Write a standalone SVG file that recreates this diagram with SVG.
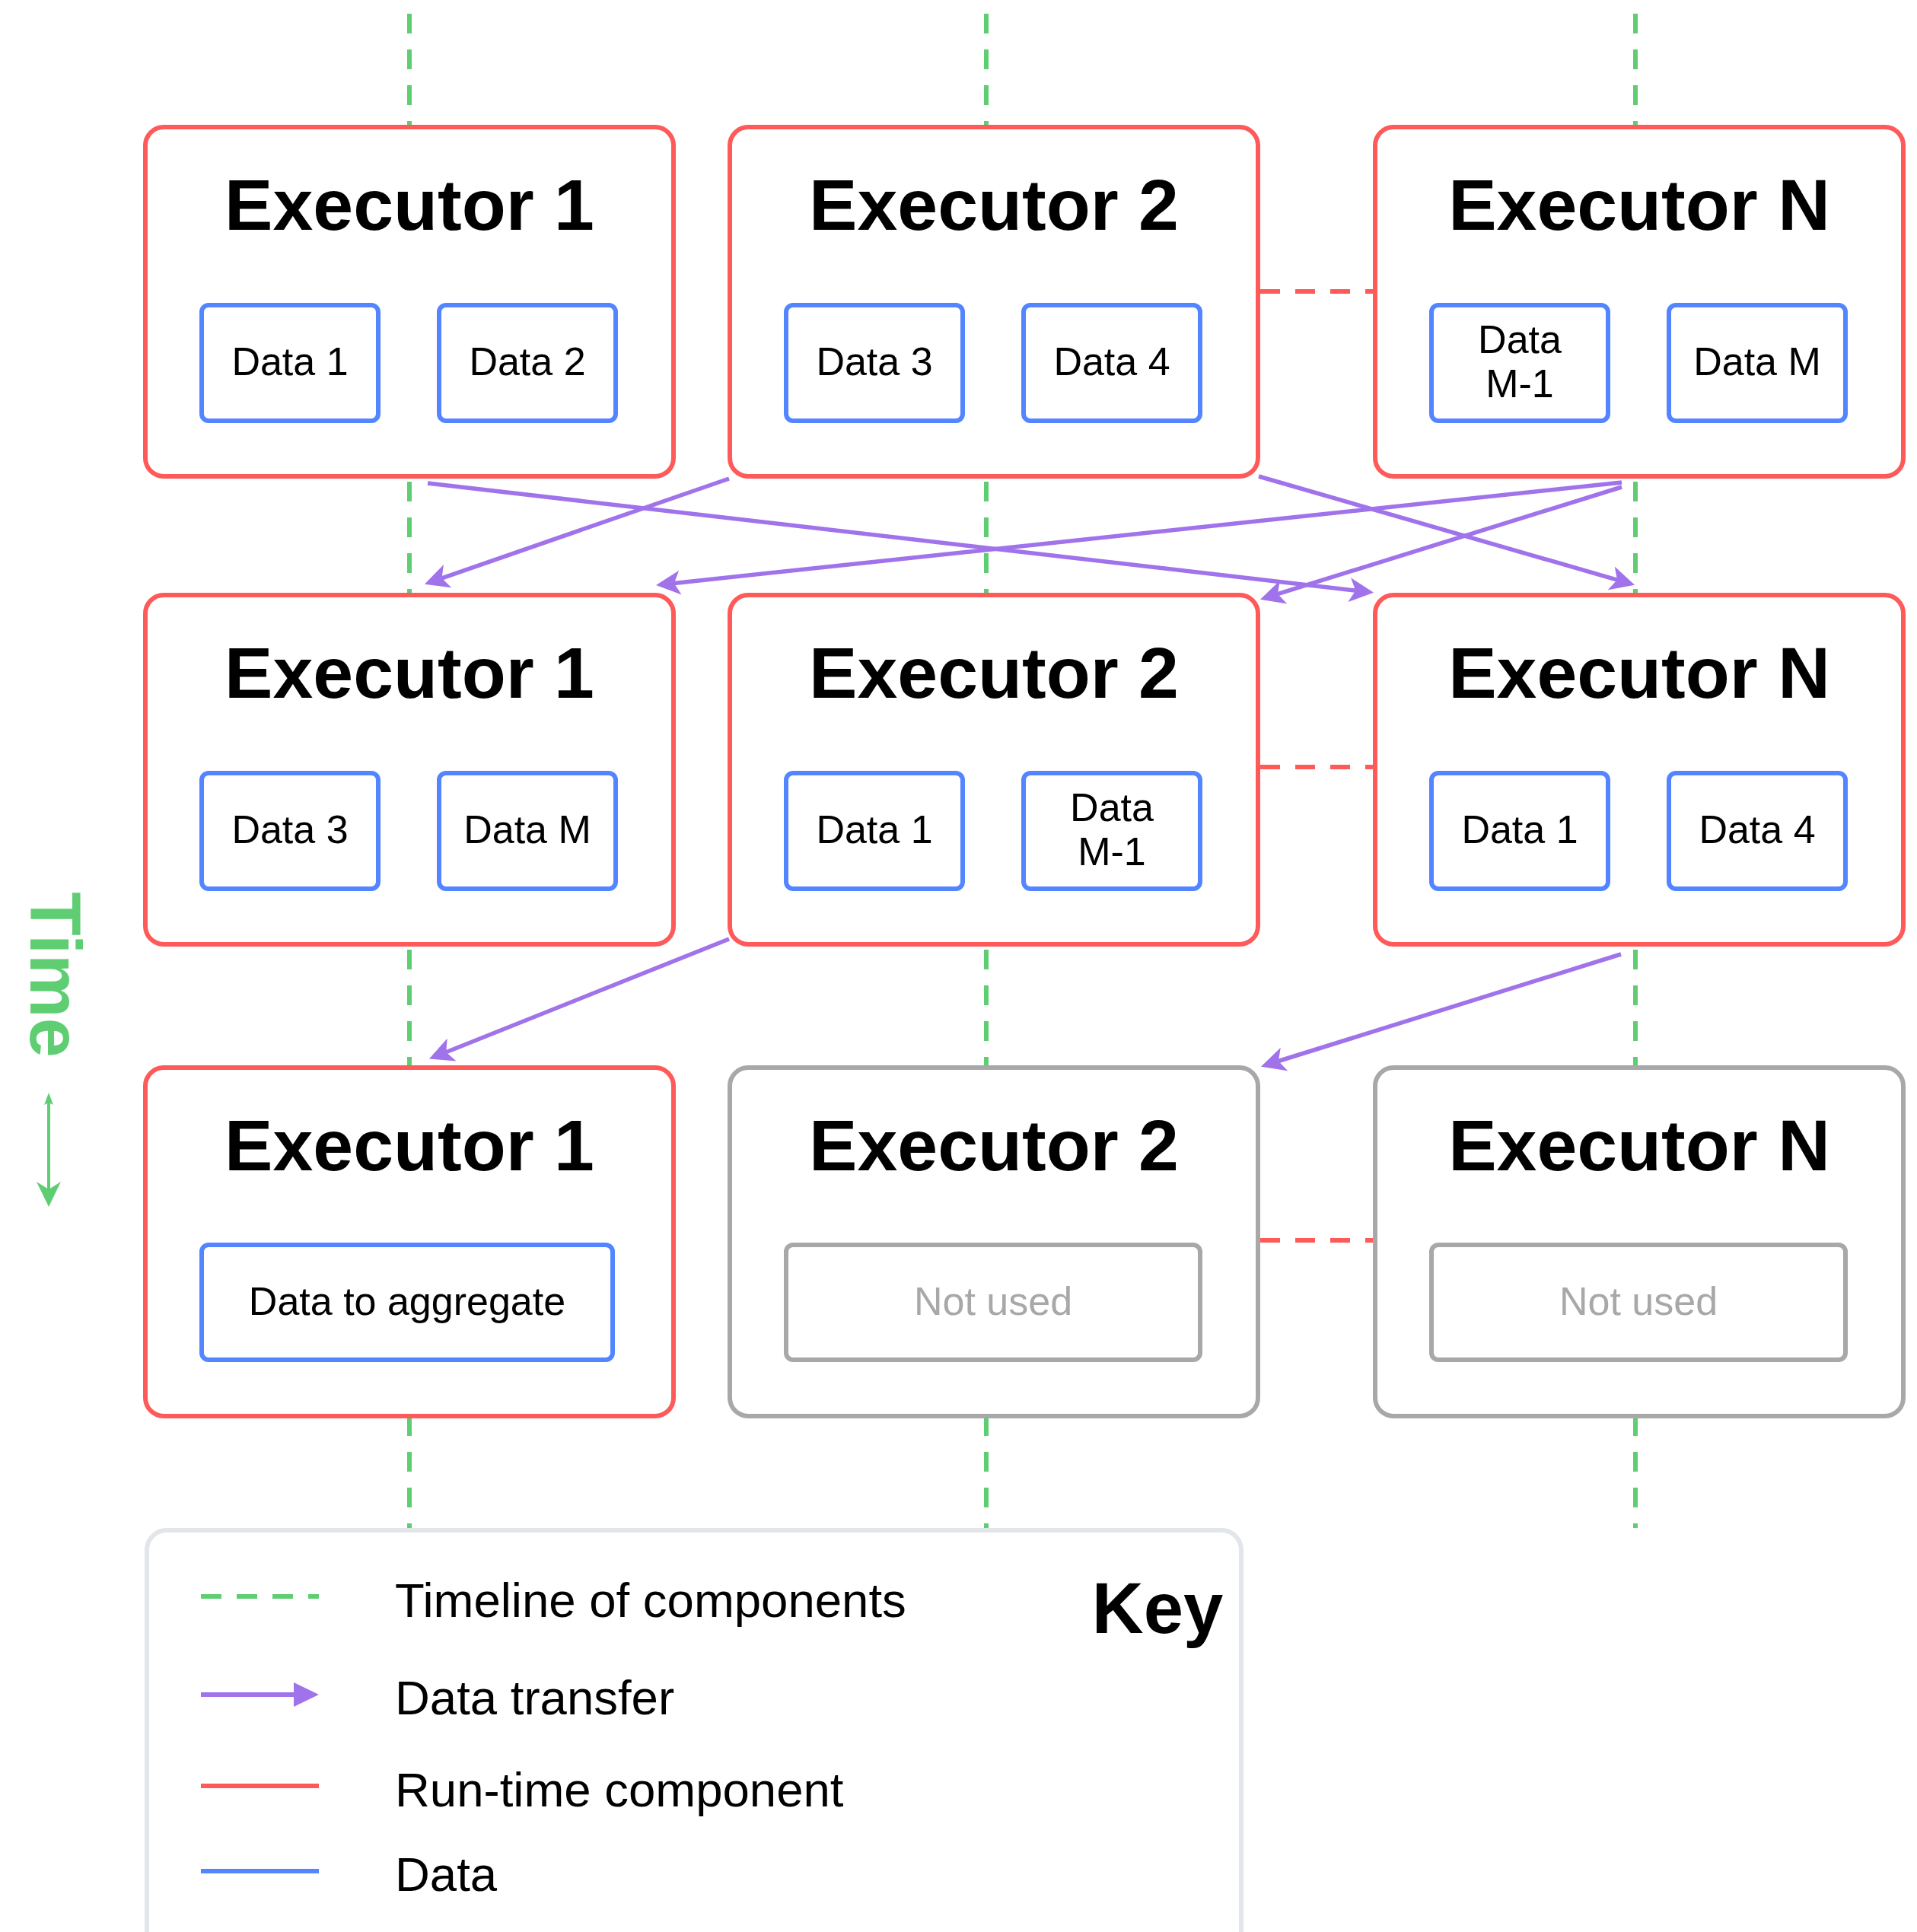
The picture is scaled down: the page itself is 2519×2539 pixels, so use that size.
<svg xmlns="http://www.w3.org/2000/svg" width="2519" height="2539" viewBox="0 0 2519 2539">
<style>
.exec{fill:#fff;stroke:#FF5A5A;stroke-width:6}
.unused{fill:#fff;stroke:#A8A8A8;stroke-width:6}
.data{fill:#fff;stroke:#5285FF;stroke-width:6}
.ubox{fill:#fff;stroke:#A8A8A8;stroke-width:6}
.title{font-family:"Liberation Sans",Arial,sans-serif;font-weight:bold;font-size:95px;fill:#000;text-anchor:middle}
.dt{font-family:"Liberation Sans",Arial,sans-serif;font-size:52px;fill:#000;text-anchor:middle}
.nu{font-family:"Liberation Sans",Arial,sans-serif;font-size:52px;fill:#A8A8A8;text-anchor:middle}
.leg{font-family:"Liberation Sans",Arial,sans-serif;font-size:63.5px;fill:#000}
.tl{stroke:#5FCE73;stroke-width:6;stroke-dasharray:26 21;fill:none}
.rd{stroke:#FF5A5A;stroke-width:6;stroke-dasharray:26 20;fill:none}
.xfer{stroke:#A073EB;stroke-width:5.5;fill:none;marker-end:url(#ah)}
</style>
<defs>
<marker id="ah" markerUnits="userSpaceOnUse" viewBox="0 -17 34 34" markerWidth="34" markerHeight="34" refX="8" refY="0" orient="auto">
<path d="M0,-16 L32,0 L0,16 L8,0 Z" fill="#A073EB"/>
</marker>
</defs>
<rect width="2519" height="2539" fill="#fff"/>

<g id="timelines">
<line class="tl" x1="538" y1="18" x2="538" y2="167"/>
<line class="tl" x1="538" y1="633" x2="538" y2="782"/>
<line class="tl" x1="538" y1="1248" x2="538" y2="1403"/>
<line class="tl" x1="538" y1="1861" x2="538" y2="2008"/>
<line class="tl" x1="1296" y1="18" x2="1296" y2="167"/>
<line class="tl" x1="1296" y1="633" x2="1296" y2="782"/>
<line class="tl" x1="1296" y1="1248" x2="1296" y2="1403"/>
<line class="tl" x1="1296" y1="1861" x2="1296" y2="2008"/>
<line class="tl" x1="2149" y1="18" x2="2149" y2="167"/>
<line class="tl" x1="2149" y1="633" x2="2149" y2="782"/>
<line class="tl" x1="2149" y1="1248" x2="2149" y2="1403"/>
<line class="tl" x1="2149" y1="1861" x2="2149" y2="2008"/>
</g>

<!-- Row 1 -->
<g id="r1-exec1">
<rect class="exec" x="191" y="167" width="694" height="459" rx="24"/>
<text class="title" x="538" y="302">Executor 1</text>
<rect class="data" x="265" y="401" width="232" height="152" rx="9"/>
<text class="dt" x="381" y="493">Data 1</text>
<rect class="data" x="577" y="401" width="232" height="152" rx="9"/>
<text class="dt" x="693" y="493">Data 2</text>
</g>
<g id="r1-exec2">
<rect class="exec" x="959" y="167" width="694" height="459" rx="24"/>
<text class="title" x="1306" y="302">Executor 2</text>
<rect class="data" x="1033" y="401" width="232" height="152" rx="9"/>
<text class="dt" x="1149" y="493">Data 3</text>
<rect class="data" x="1345" y="401" width="232" height="152" rx="9"/>
<text class="dt" x="1461" y="493">Data 4</text>
</g>
<g id="r1-execN">
<rect class="exec" x="1807" y="167" width="694" height="459" rx="24"/>
<text class="title" x="2154" y="302">Executor N</text>
<rect class="data" x="1881" y="401" width="232" height="152" rx="9"/>
<text class="dt" x="1997" y="464">Data</text>
<text class="dt" x="1997" y="522">M-1</text>
<rect class="data" x="2193" y="401" width="232" height="152" rx="9"/>
<text class="dt" x="2309" y="493">Data M</text>
</g>

<!-- Row 2 -->
<g id="r2-exec1">
<rect class="exec" x="191" y="782" width="694" height="459" rx="24"/>
<text class="title" x="538" y="917">Executor 1</text>
<rect class="data" x="265" y="1016" width="232" height="152" rx="9"/>
<text class="dt" x="381" y="1108">Data 3</text>
<rect class="data" x="577" y="1016" width="232" height="152" rx="9"/>
<text class="dt" x="693" y="1108">Data M</text>
</g>
<g id="r2-exec2">
<rect class="exec" x="959" y="782" width="694" height="459" rx="24"/>
<text class="title" x="1306" y="917">Executor 2</text>
<rect class="data" x="1033" y="1016" width="232" height="152" rx="9"/>
<text class="dt" x="1149" y="1108">Data 1</text>
<rect class="data" x="1345" y="1016" width="232" height="152" rx="9"/>
<text class="dt" x="1461" y="1079">Data</text>
<text class="dt" x="1461" y="1137">M-1</text>
</g>
<g id="r2-execN">
<rect class="exec" x="1807" y="782" width="694" height="459" rx="24"/>
<text class="title" x="2154" y="917">Executor N</text>
<rect class="data" x="1881" y="1016" width="232" height="152" rx="9"/>
<text class="dt" x="1997" y="1108">Data 1</text>
<rect class="data" x="2193" y="1016" width="232" height="152" rx="9"/>
<text class="dt" x="2309" y="1108">Data 4</text>
</g>

<!-- Row 3 -->
<g id="r3-exec1">
<rect class="exec" x="191" y="1403" width="694" height="458" rx="24"/>
<text class="title" x="538" y="1538">Executor 1</text>
<rect class="data" x="265" y="1636" width="540" height="151" rx="9"/>
<text class="dt" x="535" y="1728">Data to aggregate</text>
</g>
<g id="r3-exec2">
<rect class="unused" x="959" y="1403" width="694" height="458" rx="24"/>
<text class="title" x="1306" y="1538">Executor 2</text>
<rect class="ubox" x="1033" y="1636" width="544" height="151" rx="9"/>
<text class="nu" x="1305" y="1728">Not used</text>
</g>
<g id="r3-execN">
<rect class="unused" x="1807" y="1403" width="694" height="458" rx="24"/>
<text class="title" x="2154" y="1538">Executor N</text>
<rect class="ubox" x="1881" y="1636" width="544" height="151" rx="9"/>
<text class="nu" x="2153" y="1728">Not used</text>
</g>

<g id="connectors">
<line class="rd" x1="1656" y1="383" x2="1804" y2="383"/>
<line class="rd" x1="1656" y1="1008" x2="1804" y2="1008"/>
<line class="rd" x1="1656" y1="1630" x2="1804" y2="1630"/>
<line class="xfer" x1="562" y1="635" x2="1781.2" y2="776.1"/>
<line class="xfer" x1="958" y1="629" x2="580.6" y2="759.8"/>
<line class="xfer" x1="2131" y1="634" x2="885.9" y2="766.4"/>
<line class="xfer" x1="1654" y1="626" x2="2125" y2="762.1"/>
<line class="xfer" x1="2131" y1="640" x2="1678.9" y2="780.6"/>
<line class="xfer" x1="958" y1="1234" x2="586.2" y2="1382.7"/>
<line class="xfer" x1="2130" y1="1254" x2="1679.9" y2="1394.5"/>
</g>

<g id="time">
<text x="40" y="1281" transform="rotate(90 40 1281)" font-family="Liberation Sans, Arial, sans-serif" font-weight="bold" font-size="94" fill="#5FCE73" text-anchor="middle">Time</text>
<line x1="64" y1="1444" x2="64" y2="1565" stroke="#5FCE73" stroke-width="4"/>
<path d="M64,1436 L70,1452 L64,1449 L58,1452 Z" fill="#5FCE73"/>
<path d="M64,1586 L48,1553 L64,1563 L80,1553 Z" fill="#5FCE73"/>
</g>

<g id="key">
<rect x="193" y="2011" width="1438" height="600" rx="26" fill="#fff" stroke="#E2E6EA" stroke-width="6"/>
<text x="1521" y="2146" font-family="Liberation Sans, Arial, sans-serif" font-weight="bold" font-size="94" text-anchor="middle">Key</text>
<line x1="264" y1="2098" x2="419" y2="2098" stroke="#5FCE73" stroke-width="6" stroke-dasharray="27 20"/>
<text class="leg" x="519" y="2125">Timeline of components</text>
<line x1="264" y1="2227" x2="390" y2="2227" stroke="#A073EB" stroke-width="6"/>
<path d="M386,2211 L419,2227 L386,2243 Z" fill="#A073EB"/>
<text class="leg" x="519" y="2253">Data transfer</text>
<line x1="264" y1="2347" x2="419" y2="2347" stroke="#FF5A5A" stroke-width="6"/>
<text class="leg" x="519" y="2374">Run-time component</text>
<line x1="264" y1="2459" x2="419" y2="2459" stroke="#5285FF" stroke-width="6"/>
<text class="leg" x="519" y="2485">Data</text>
</g>
</svg>
